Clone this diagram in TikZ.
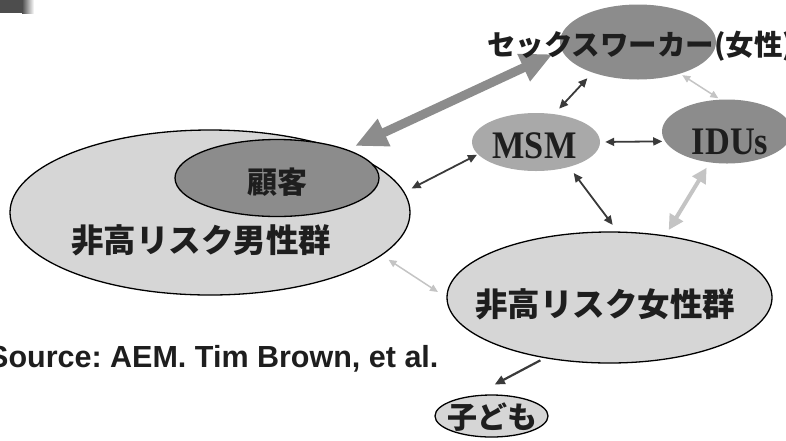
\documentclass[tikz,border=0pt]{standalone}
\usepackage{graphicx}
\usepackage{fontspec}
\setmainfont{Liberation Sans}
\newfontfamily\jp{Noto Sans CJK JP}
\newfontfamily\serifb{Liberation Serif}
\usetikzlibrary{shapes.geometric,arrows.meta}
\frenchspacing
\definecolor{lightfill}{HTML}{D6D6D6}
\definecolor{darkfill}{HTML}{8C8C8C}
\definecolor{midfill}{HTML}{A9A9A9}
\definecolor{ink}{HTML}{1E1E1E}
\definecolor{darkarrow}{HTML}{3A3A3A}
\definecolor{lightarrow}{HTML}{C4C4C4}
\definecolor{thickarrow}{HTML}{8C8C8C}
\definecolor{boxgray}{HTML}{4D4D4D}
\tikzset{
  grp/.style={ellipse, inner sep=0pt, draw=black, line width=1.3pt, fill=lightfill},
  core/.style={ellipse, inner sep=0pt, fill=darkfill},
  jplbl/.style={inner sep=0pt, text=ink, font=\jp\bfseries\fontsize{#1}{#1}\selectfont},
  latlbl/.style={inner sep=0pt, text=ink, font=\serifb\bfseries\fontsize{39}{40}\selectfont},
  srclbl/.style={inner sep=0pt, text=ink, font=\bfseries\fontsize{30.5}{32}\selectfont},
  link/.style={draw=darkarrow, line width=1.8pt, {Triangle[length=9pt,width=8pt]}-{Triangle[length=9pt,width=8pt]}},
  faintlink/.style={draw=lightarrow, line width=1.5pt, {Triangle[length=8pt,width=7pt]}-{Triangle[length=8pt,width=7pt]}},
  widelink/.style={draw=lightarrow, line width=4pt, {Triangle[length=15pt,width=15pt]}-{Triangle[length=15pt,width=15pt]}},
  biglink/.style={draw=thickarrow, line width=9pt, {Triangle[length=32pt,width=28pt]}-{Triangle[length=32pt,width=28pt]}},
  childlink/.style={draw=darkarrow, line width=2.2pt, -{Triangle[length=10pt,width=9pt]}}
}
\begin{document}
\begin{tikzpicture}[x=1pt,y=-1pt]
\useasboundingbox (0,0) rectangle (786,440);
% corner decoration
\fill[boxgray] (0,0) rectangle (22,13);
\shade[left color=boxgray,right color=white] (22,0) rectangle (34,13);
% ellipses
\node[grp, minimum width=400pt, minimum height=165pt] (men) at (210,212.5) {};
\node[core, draw=black, line width=1.3pt, minimum width=204pt, minimum height=77pt] (kokyaku) at (277,178) {};
\node[core, minimum width=156pt, minimum height=75pt] (sw) at (638,42) {};
\node[core, fill=midfill, minimum width=128pt, minimum height=58pt] (msm) at (536,142) {};
\node[core, minimum width=130pt, minimum height=64pt] (idus) at (727,131.5) {};
\node[grp, minimum width=325pt, minimum height=131pt] (wom) at (609.5,297.5) {};
\node[grp, minimum width=113pt, minimum height=42pt] (kodomo) at (491.5,416) {};
% connectors
\draw[biglink, shorten <=8.4pt, shorten >=9.9pt] (kokyaku.22) -- (sw.186);
\draw[link, shorten <=7.3pt, shorten >=7.6pt] (msm.57.1) -- (sw.214.5);
\draw[link, shorten <=8pt, shorten >=1pt] (men.6.84) -- (msm.192.6);
\draw[link, shorten <=5pt, shorten >=2.7pt] (msm.east) -- (idus.189.75);
\draw[link, shorten <=7.5pt, shorten >=8.2pt] (msm.-37.6) -- (wom.83.1);
\draw[widelink, shorten <=6pt, shorten >=6.3pt] (idus.241.5) -- (wom.48.5);
\draw[faintlink, shorten <=2.5pt, shorten >=2.2pt] (sw.-37.1) -- (idus.102.6);
\draw[faintlink, shorten <=7.9pt, shorten >=10pt] (men.-14.27) -- (wom.180);
\draw[childlink, shorten <=4.6pt, shorten >=23.3pt] (wom.223.6) -- (kodomo.130.5);
% labels
\node[jplbl=30] (tkokyaku) at (277,182) {顧客};
\node[jplbl=32.5] (tmen) at (201,240) {非高リスク男性群};
\node[jplbl=32.5] (twom) at (605,304) {非高リスク女性群};
\node[jplbl=30] (tkodomo) at (492,417) {子ども};
\node[jplbl=28.5, anchor=west] (tsw) at (487,46) {セックスワーカー(女性)};
\node[latlbl] (tmsm) at (534.5,146) {\scalebox{0.88}[1]{MSM}};
\node[latlbl] (tidus) at (730,141.5) {\scalebox{0.88}[1]{IDUs}};
\node[srclbl, anchor=base west] (src) at (-12,367) {Source: AEM. Tim Brown, et al.};
\end{tikzpicture}
\end{document}
